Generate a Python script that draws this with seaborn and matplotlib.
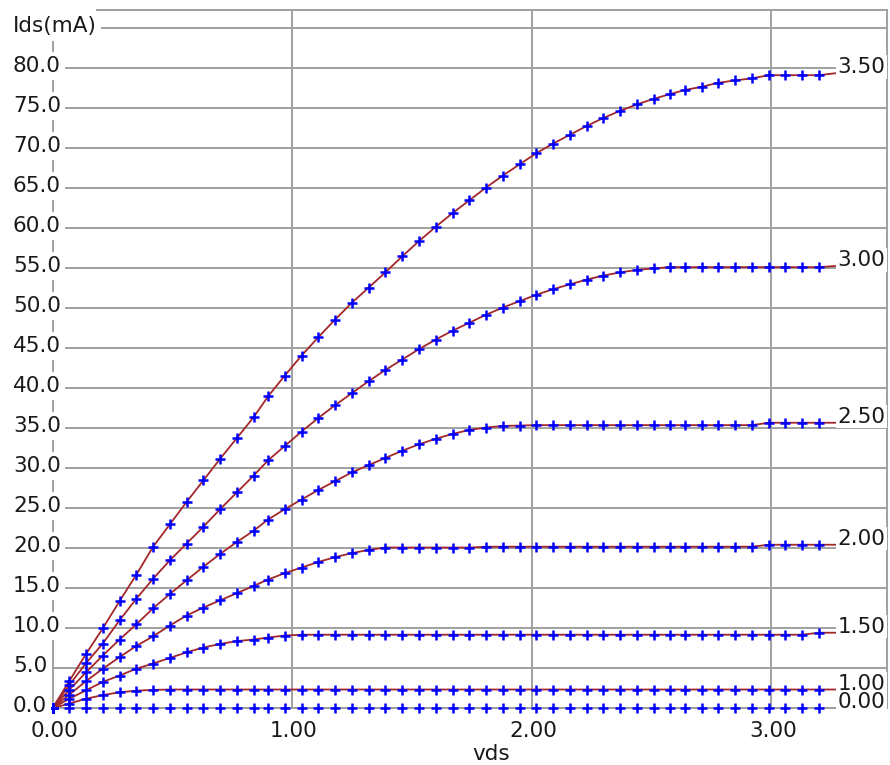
import matplotlib
matplotlib.use("Agg")
import matplotlib.pyplot as plt
import matplotlib.transforms as mtransforms
import pandas as pd
import seaborn as sns

# Drain-source sweep (V)
vds = [0.00, 0.07, 0.14, 0.21, 0.28, 0.35, 0.42, 0.49, 0.56, 0.63,
       0.70, 0.77, 0.84, 0.90, 0.97, 1.04, 1.11, 1.18, 1.25, 1.32,
       1.39, 1.46, 1.53, 1.60, 1.67, 1.74, 1.81, 1.88, 1.95, 2.02,
       2.09, 2.16, 2.23, 2.30, 2.37, 2.44, 2.51, 2.58, 2.64, 2.71,
       2.78, 2.85, 2.92, 2.99, 3.06, 3.13, 3.20, 3.27]

# Gate voltages labelling each curve
vg_labels = ["0.00", "1.00", "1.50", "2.00", "2.50", "3.00", "3.50"]

# Drain current (mA) for each gate voltage
ids_000 = [0.0, 0.0, 0.0, 0.0, 0.0, 0.0, 0.0, 0.0, 0.0, 0.0,
           0.0, 0.0, 0.0, 0.0, 0.0, 0.0, 0.0, 0.0, 0.0, 0.0,
           0.0, 0.0, 0.0, 0.0, 0.0, 0.0, 0.0, 0.0, 0.0, 0.0,
           0.0, 0.0, 0.0, 0.0, 0.0, 0.0, 0.0, 0.0, 0.0, 0.0,
           0.0, 0.0, 0.0, 0.0, 0.0, 0.0, 0.0, 0.0]
ids_100 = [0.0, 0.6, 1.2, 1.65, 2.0, 2.2, 2.3, 2.35, 2.35, 2.35,
           2.35, 2.35, 2.35, 2.35, 2.35, 2.35, 2.35, 2.35, 2.35, 2.35,
           2.35, 2.35, 2.35, 2.35, 2.35, 2.35, 2.35, 2.35, 2.35, 2.35,
           2.35, 2.35, 2.35, 2.35, 2.35, 2.35, 2.35, 2.35, 2.35, 2.35,
           2.35, 2.35, 2.35, 2.35, 2.35, 2.35, 2.35, 2.35]
ids_150 = [0.0, 1.2, 2.25, 3.3, 4.1, 4.95, 5.6, 6.3, 7.0, 7.6,
           8.05, 8.4, 8.6, 8.85, 9.1, 9.2, 9.2, 9.2, 9.2, 9.2,
           9.2, 9.2, 9.2, 9.2, 9.2, 9.2, 9.2, 9.2, 9.2, 9.2,
           9.2, 9.2, 9.2, 9.2, 9.2, 9.2, 9.2, 9.2, 9.2, 9.2,
           9.2, 9.2, 9.2, 9.2, 9.2, 9.2, 9.45, 9.45]
ids_200 = [0.0, 1.7, 3.4, 4.95, 6.4, 7.8, 9.0, 10.35, 11.6, 12.6,
           13.5, 14.4, 15.3, 16.1, 16.9, 17.6, 18.3, 18.9, 19.4, 19.8,
           20.1, 20.1, 20.1, 20.1, 20.1, 20.1, 20.2, 20.2, 20.2, 20.2,
           20.2, 20.2, 20.2, 20.2, 20.2, 20.2, 20.2, 20.2, 20.2, 20.2,
           20.2, 20.2, 20.2, 20.45, 20.45, 20.45, 20.45, 20.45]
ids_250 = [0.0, 2.3, 4.5, 6.6, 8.6, 10.5, 12.5, 14.3, 16.0, 17.7,
           19.3, 20.8, 22.2, 23.6, 24.9, 26.1, 27.3, 28.4, 29.5, 30.4,
           31.3, 32.2, 33.0, 33.7, 34.3, 34.8, 35.1, 35.3, 35.35, 35.4,
           35.4, 35.4, 35.4, 35.4, 35.4, 35.4, 35.4, 35.4, 35.4, 35.4,
           35.4, 35.4, 35.4, 35.7, 35.7, 35.7, 35.7, 35.7]
ids_300 = [0.0, 2.9, 5.65, 8.1, 11.0, 13.7, 16.2, 18.5, 20.6, 22.7,
           24.9, 27.0, 29.1, 31.0, 32.8, 34.6, 36.3, 37.9, 39.4, 40.9,
           42.3, 43.6, 44.9, 46.1, 47.2, 48.2, 49.2, 50.1, 50.9, 51.7,
           52.4, 53.0, 53.6, 54.1, 54.5, 54.8, 55.0, 55.15, 55.15, 55.15,
           55.15, 55.15, 55.15, 55.15, 55.15, 55.15, 55.15, 55.3]
ids_350 = [0.0, 3.4, 6.8, 10.0, 13.4, 16.7, 20.2, 23.0, 25.8, 28.5,
           31.2, 33.8, 36.4, 39.0, 41.6, 44.1, 46.4, 48.6, 50.7, 52.6,
           54.5, 56.5, 58.4, 60.2, 61.9, 63.5, 65.1, 66.6, 68.0, 69.4,
           70.6, 71.7, 72.8, 73.8, 74.7, 75.5, 76.2, 76.8, 77.3, 77.7,
           78.2, 78.5, 78.75, 79.15, 79.15, 79.15, 79.15, 79.4]

ytick_values = [0, 5, 10, 15, 20, 25, 30, 35, 40, 45, 50, 55, 60, 65, 70, 75, 80]
y_title_level = 85
xtick_values = [0, 1, 2, 3]

LINE = "#a3262a"
MARK = "#0000ff"
GRID = "#a0a0a0"
TEXT = "#1a1a1a"
FS = 15.5

sns.set_style("white")
plt.rcParams["font.family"] = ["DejaVu Sans"]

fig = plt.figure(figsize=(8.9, 7.65), dpi=100)
W, H = 890, 765
x0, x1, y0, y1 = 52.5, 887, 708.3, 10
ax = fig.add_axes([x0 / W, (H - y0) / H, (x1 - x0) / W, (y0 - y1) / H])

series = [ids_000, ids_100, ids_150, ids_200, ids_250, ids_300, ids_350]
df = pd.concat(
    [pd.DataFrame({"vds": vds, "ids": s, "vg": lab}) for lab, s in zip(vg_labels, series)],
    ignore_index=True,
)

sns.lineplot(data=df, x="vds", y="ids", hue="vg",
             palette={lab: LINE for lab in vg_labels},
             estimator=None, sort=False, legend=False,
             linewidth=1.3, ax=ax, zorder=2)

marks = df[df["vds"] < 3.25]
sns.scatterplot(data=marks, x="vds", y="ids", marker="+", color=MARK,
                s=60, linewidth=1.8, legend=False, ax=ax,
                zorder=3, clip_on=False)

ax.set_xlim(0, 3.484)
ax.set_ylim(0, 87.3)
ax.set_xticks(xtick_values[1:])
ax.set_yticks(ytick_values[1:] + [y_title_level])
ax.grid(True, color=GRID, linewidth=1.4)
ax.set_axisbelow(True)
ax.tick_params(length=0, labelbottom=False, labelleft=False)
ax.set_xlabel("")
ax.set_ylabel("")

for side, sp in ax.spines.items():
    sp.set_visible(True)
    sp.set_color(GRID)
    sp.set_linewidth(1.4)
ax.spines["left"].set_bounds(0, y_title_level)
ax.spines["top"].set_bounds(0.186, 3.484)

box_left = dict(boxstyle="square,pad=0.2", fc="white", ec="none")
box_right = dict(boxstyle="square,pad=0.08", fc="white", ec="none")

# y-axis labels, left aligned at the figure edge
ytr = mtransforms.offset_copy(
    mtransforms.blended_transform_factory(fig.transFigure, ax.transData),
    fig=fig, x=0, y=-3.8, units="dots")
for v in ytick_values:
    ax.text(13 / W, v, f"{v:.1f}", transform=ytr, ha="left", va="baseline",
            fontsize=FS, color=TEXT, bbox=box_left, zorder=6, clip_on=False)
ax.text(13 / W, y_title_level, "Ids(mA)", transform=ytr, ha="left", va="baseline",
        fontsize=FS, color=TEXT, bbox=box_left, zorder=6, clip_on=False)

# x-axis labels
xtr = mtransforms.offset_copy(
    mtransforms.blended_transform_factory(ax.transData, ax.transAxes),
    fig=fig, x=2, y=-13, units="dots")
for v in xtick_values:
    ax.text(v, 0, f"{v:.2f}", transform=xtr, ha="center", va="top",
            fontsize=FS, color=TEXT, clip_on=False)
fig.text(472 / W, 5 / H, "vds", ha="left", va="baseline", fontsize=FS, color=TEXT)

# gate-voltage labels at the end of each curve; lower labels sit on top
rtr = mtransforms.offset_copy(ax.transData, fig=fig, x=2, y=0, units="dots")
for i, (lab, s) in enumerate(zip(vg_labels, series)):
    ax.text(vds[-1], s[-1], lab, transform=rtr, ha="left", va="baseline",
            fontsize=FS, color=TEXT, bbox=box_right,
            zorder=20 - i, clip_on=False)

fig.savefig("out.png", dpi=100)
